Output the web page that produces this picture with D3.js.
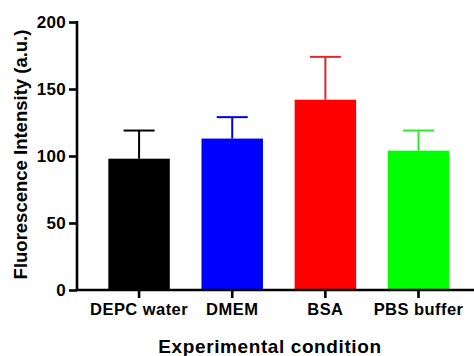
<!DOCTYPE html>
<html>
<head>
<meta charset="utf-8">
<script src="https://cdn.jsdelivr.net/npm/d3@7"></script>
<style>
  body { margin: 0; background: #fff; }
  svg text { font-family: "Liberation Sans", Arial, sans-serif; font-weight: bold; fill: #000; }
</style>
</head>
<body>
<svg id="chart" width="474" height="356"></svg>
<script>
"use strict";
// data
var categories = ["DEPC water", "DMEM", "BSA", "PBS buffer"];
var means = [98, 113, 142, 104];
var errors = [21, 16, 32, 15];
var barColors = ["#000000", "#0000ff", "#ff0000", "#00ff00"];
var errColors = ["#000000", "#0000ee", "#d42a2a", "#2ee82e"];
var yTicks = [0, 50, 100, 150, 200];

var svg = d3.select("#chart");
var axisX = 77, baseY = 290;

var x = d3.scaleBand().domain(categories).range([80.4, 477.2])
    .paddingInner(0.34).paddingOuter(0.3);
var y = d3.scaleLinear().domain([0, 200]).range([baseY, 22]);

var data = categories.map(function (c, i) {
    return { cat: c, mean: means[i], err: errors[i], fill: barColors[i], ec: errColors[i] };
});

// error bars (drawn behind the bars)
var eb = svg.append("g").selectAll("g").data(data).enter().append("g");
eb.append("line")
    .attr("x1", function (d) { return x(d.cat) + x.bandwidth() / 2; })
    .attr("x2", function (d) { return x(d.cat) + x.bandwidth() / 2; })
    .attr("y1", function (d) { return y(d.mean); })
    .attr("y2", function (d) { return y(d.mean + d.err); })
    .attr("stroke", function (d) { return d.ec; })
    .attr("stroke-width", 2);
eb.append("line")
    .attr("x1", function (d) { return x(d.cat) + x.bandwidth() / 2 - 15.5; })
    .attr("x2", function (d) { return x(d.cat) + x.bandwidth() / 2 + 15.5; })
    .attr("y1", function (d) { return y(d.mean + d.err); })
    .attr("y2", function (d) { return y(d.mean + d.err); })
    .attr("stroke", function (d) { return d.ec; })
    .attr("stroke-width", 2);

// bars
svg.append("g").selectAll("rect").data(data).enter().append("rect")
    .attr("x", function (d) { return x(d.cat); })
    .attr("width", x.bandwidth())
    .attr("y", function (d) { return y(d.mean); })
    .attr("height", function (d) { return baseY - y(d.mean); })
    .attr("fill", function (d) { return d.fill; });

// y axis
var yAxis = svg.append("g").attr("transform", "translate(" + axisX + ",0)")
    .call(d3.axisLeft(y).tickValues(yTicks).tickSize(8).tickPadding(3));
yAxis.select(".domain").attr("stroke-width", 2.6).attr("d", "M0," + (y(200) - 1) + "V" + (baseY + 1));
yAxis.selectAll(".tick line").attr("stroke-width", 2.6);
yAxis.selectAll(".tick text").style("font-size", "17px").style("letter-spacing", "0.3px");

// x axis
var xAxis = svg.append("g").attr("transform", "translate(0," + baseY + ")")
    .call(d3.axisBottom(x).tickSize(8).tickPadding(5));
xAxis.select(".domain").attr("stroke-width", 2.6).attr("d", "M" + (axisX - 1) + ",0H474");
xAxis.selectAll(".tick line").attr("stroke-width", 2.6);
xAxis.selectAll(".tick text").style("font-size", "16.5px").style("letter-spacing", "0.45px");

// axis titles
svg.append("text")
    .attr("x", 270).attr("y", 353)
    .attr("text-anchor", "middle")
    .style("font-size", "19px")
    .style("letter-spacing", "0.6px")
    .text("Experimental condition");
svg.append("text")
    .attr("transform", "translate(27,154.5) rotate(-90)")
    .attr("text-anchor", "middle")
    .style("font-size", "18.5px")
    .text("Fluorescence Intensity (a.u.)");
</script>
</body>
</html>
